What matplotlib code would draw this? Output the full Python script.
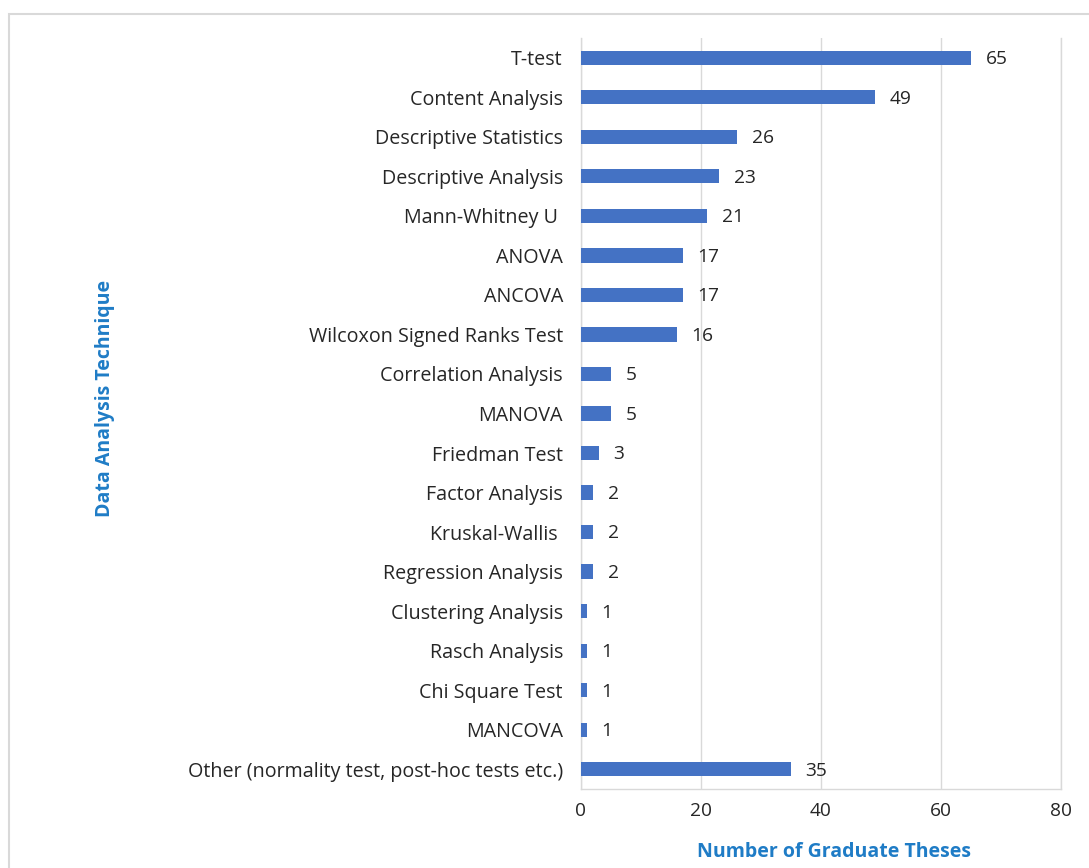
import matplotlib
matplotlib.use("Agg")
import matplotlib.pyplot as plt
from matplotlib.patches import Rectangle

categories = ["T-test", "Content Analysis", "Descriptive Statistics", "Descriptive Analysis",
              "Mann-Whitney U ", "ANOVA", "ANCOVA", "Wilcoxon Signed Ranks Test",
              "Correlation Analysis", "MANOVA", "Friedman Test", "Factor Analysis",
              "Kruskal-Wallis ", "Regression Analysis", "Clustering Analysis",
              "Rasch Analysis", "Chi Square Test", "MANCOVA",
              "Other (normality test, post-hoc tests etc.)"]
values = [65, 49, 26, 23, 21, 17, 17, 16, 5, 5, 3, 2, 2, 2, 1, 1, 1, 1, 35]
xticks = [0, 20, 40, 60, 80]

plt.rcParams['font.family'] = ['Open Sans', 'DejaVu Sans']
fs = 14.2

fig = plt.figure(figsize=(10.89, 8.68), dpi=100)
ax = fig.add_axes([581/1089, 1-789/868, 480/1089, 751/868])

ypos = list(range(len(categories)))
ax.barh(ypos, values, height=0.36, color='#4472C4', zorder=3)
for y, v in zip(ypos, values):
    ax.annotate(str(v), (v, y), xytext=(10.5, -1), textcoords='offset points',
                va='center', ha='left', fontsize=13.8, color='#262626')

ax.set_ylim(len(categories) - 0.5, -0.5)
ax.set_xlim(0, 80)
ax.set_xticks(xticks)
ax.set_xticklabels([str(t) for t in xticks], fontsize=13.8, color='#262626')
ax.set_yticks(ypos)
ax.set_yticklabels(categories, fontsize=fs, color='#262626')
ax.tick_params(axis='both', length=0)
ax.tick_params(axis='y', pad=13)
ax.tick_params(axis='x', pad=9)
ax.grid(axis='x', color='#D9D9D9', linewidth=1, zorder=0)
for s in ['top']:
    ax.spines[s].set_visible(False)
for s in ['left', 'bottom', 'right']:
    ax.spines[s].set_color('#D9D9D9')
    ax.spines[s].set_linewidth(1)

fig.text(834/1089, 1-852/868, "Number of Graduate Theses", ha='center', va='center',
         fontsize=14, fontweight='bold', color='#1F7CC6')
fig.text(105/1089, 1-398/868, "Data Analysis Technique", ha='center', va='center',
         rotation=90, fontsize=14, fontweight='bold', color='#1F7CC6')

fig.patches.append(Rectangle((9/1089, -0.05), 1.2, 1-14/868+0.05, transform=fig.transFigure,
                             fill=False, edgecolor='#D9D9D9', linewidth=1.5, zorder=0))

fig.savefig("out.png", dpi=100, facecolor='white')
